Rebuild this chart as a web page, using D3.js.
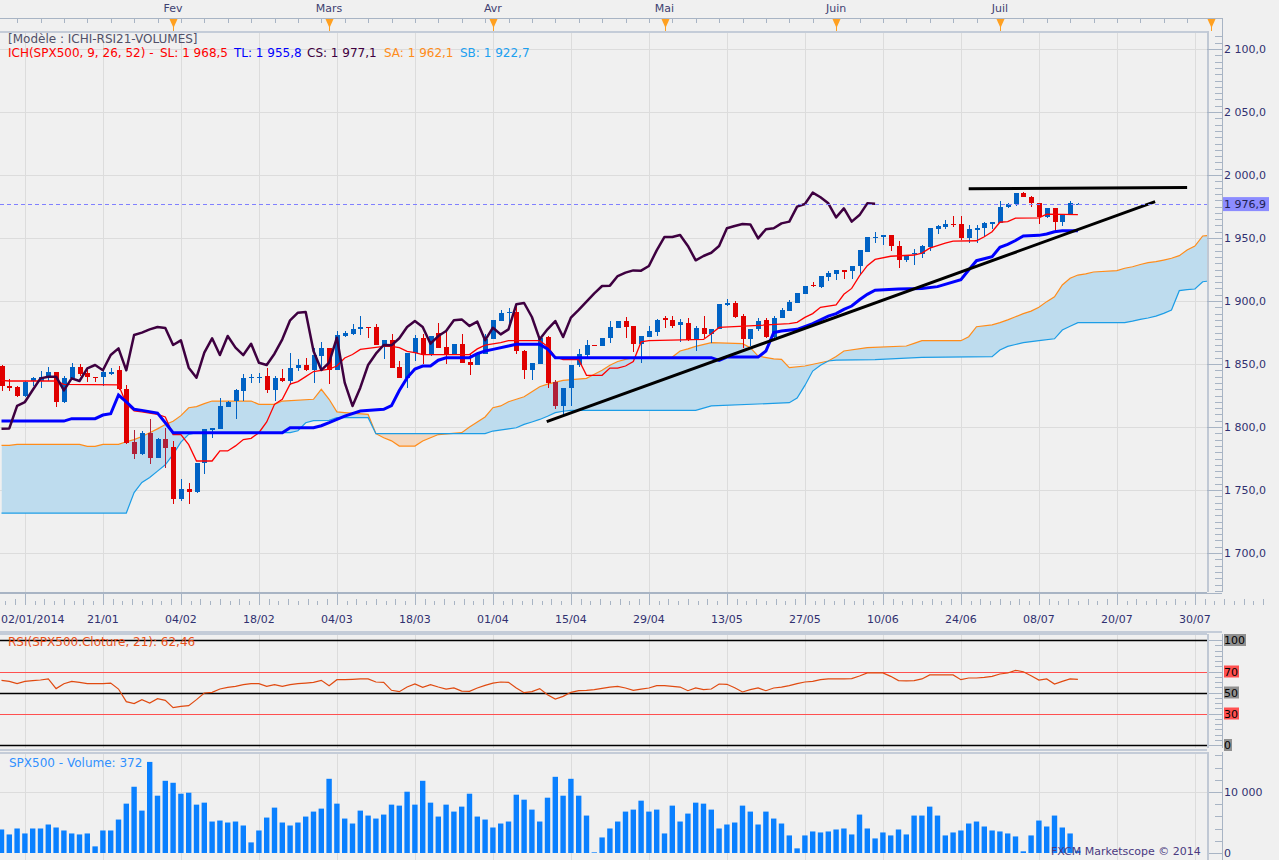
<!DOCTYPE html>
<html>
<head>
<meta charset="utf-8">
<script src="https://cdn.jsdelivr.net/npm/d3@7"></script>
<style>
  body { margin: 0; background: #f0f0f0; }
  svg { display: block; font-family: "DejaVu Sans", Verdana, sans-serif; }
</style>
</head>
<body>
<svg id="chart" width="1279" height="860"></svg>
<script>
// ---- data (bar index = trading day from the left edge) ----
const dateLabels = ["02/01/2014","21/01","04/02","18/02","04/03","18/03","01/04","15/04",
                    "29/04","13/05","27/05","10/06","24/06","08/07","20/07","30/07"];
const dateBars = [3,13,23,33,43,53,63,73,83,93,103,113,123,133,143,153];
const monthLabels = ["Fev","Mars","Avr","Mai","Juin","Juil",""];
const monthBars = [22,42,63,85,107,128,155];
const priceTicks = [1700,1750,1800,1850,1900,1950,2000,2050,2100];
const rsiLevels = [100,70,50,30,0];
const volTicks = [0,10000];
const lastPrice = 1976.9;

const opens = [
1848.4,1832.5,1831.7,1824.6,1836.5,1836.5,1839.7,1843.6,1820.1,1838.6,
1847.6,1842.5,1839.9,1839.9,1841.7,1845.2,1830.4,1788.1,1778.3,1795.5,
1775.6,1790.2,1784.4,1742.6,1750.5,1748.4,1771.1,1797.8,1798.7,1816.2,
1820.6,1828.6,1838.6,1839.1,1840.5,1829.1,1838.6,1836.5,1846.6,1849.2,
1845,1856.3,1862.4,1845,1872.2,1873.5,1877.5,1879.4,1879.4,1865.1,
1868.8,1847.6,1839.1,1858.5,1870.4,1857.1,1874.9,1863.5,1857.1,1866.1,
1851.8,1849.2,1858.2,1869.6,1884.1,1890.5,1891.3,1860.3,1845.2,1850.3,
1871.4,1836,1816.7,1830.7,1849.2,1857.1,1865.3,1864.3,1870.4,1878.8,
1884.1,1880.2,1866.1,1871.4,1875.7,1886.2,1884.7,1880.9,1882.8,1868.8,
1878.8,1873.5,1877.5,1896.8,1898.4,1888.1,1869.6,1877.5,1884.7,1871.4,
1886.2,1892.1,1898.7,1905.8,1912.7,1911.1,1919.3,1921.7,1924.6,1924.1,
1927.5,1939.1,1949.7,1950.8,1952.4,1943.7,1932.3,1937.3,1937.3,1942.6,
1956.9,1959,1961.3,1961.1,1949.7,1956.9,1957.7,1961.1,1962.2,1974.4,
1977,1986,1982.3,1977.5,1966.4,1973.5,1963,1968.9,1976.9];
const highs = [
1849,1837.8,1832.5,1836.5,1839.7,1844.4,1847.6,1844,1840.5,1851,
1849.7,1845.9,1840,1847,1847.1,1848.4,1833,1797.3,1796.8,1806.1,
1791.5,1799.4,1788.9,1758.4,1755.8,1771.1,1798.7,1799.5,1823.3,1820.5,
1830.4,1841.8,1841.8,1843.1,1846.6,1840.5,1845.8,1859,1853.7,1855,
1862.4,1867.7,1862.4,1876.2,1876.2,1882,1888.4,1879.4,1882,1868.8,
1874.1,1852.4,1859,1873,1873.5,1872.2,1882.8,1876.2,1866.1,1874.1,
1857.7,1858.2,1873.5,1884.7,1892.6,1894.7,1897.4,1861,1851,1870.9,
1872,1837,1831.2,1849.2,1861.6,1868.8,1865.3,1870.4,1884.1,1884.1,
1887.3,1880.2,1872.2,1880.2,1885.4,1888.1,1888.1,1885.4,1886.8,1880.2,
1888.1,1877.5,1897.4,1901.9,1900,1890,1877.5,1886.2,1886.8,1888.1,
1894.7,1900.5,1906.1,1911.9,1915.3,1919.8,1923.8,1924.3,1924.6,1927.8,
1940.2,1950.8,1955,1952.4,1952.4,1947.6,1935.7,1941,1944.4,1957.7,
1960.3,1964.3,1967.5,1967.5,1960.3,1960.3,1963,1963,1979.6,1978.1,
1986,1986.8,1983.3,1977.5,1973.5,1973.5,1968.2,1979.6,1977.5];
const lows = [
1828.6,1828.6,1823.8,1824,1832.5,1830.7,1836.5,1816,1819.3,1837.8,
1840.5,1835.9,1835.9,1832.5,1840.9,1829.1,1786.2,1774.3,1777.8,1770.9,
1775.1,1767.7,1739.1,1741.2,1739.1,1747.9,1762.9,1791.5,1798.4,1815.5,
1806.6,1820.6,1835.2,1835.2,1827.2,1820.6,1836,1833.3,1844.4,1844.4,
1835.2,1847.1,1834.4,1845,1871.4,1873,1873,1870.9,1865.1,1853.7,
1847.1,1839.1,1831.2,1852.4,1849.7,1856.3,1863,1849.7,1857.1,1851,
1841.3,1849.2,1857.7,1869.6,1884.1,1882.8,1858,1837.8,1837,1850,
1831.2,1814,1809.5,1816.7,1847.6,1853.7,1864.8,1864.3,1866.9,1878.8,
1870.4,1859.8,1851,1871.4,1872.2,1878.8,1878.3,1867.7,1868.2,1860.3,
1870.4,1866.9,1877.5,1896,1886.2,1862.4,1864.3,1876.2,1870.4,1870.9,
1886.2,1892.1,1898.7,1905.3,1911.1,1910.1,1915.9,1916.4,1917.2,1917.2,
1920.6,1939.1,1946.3,1944.5,1939.7,1925.9,1931.2,1928.6,1933.9,1939.9,
1953.2,1956.9,1959,1948.4,1946.3,1945.8,1951.6,1956.9,1961.6,1973.5,
1975.4,1982.3,1974.9,1961.1,1965.6,1955,1959.5,1968.2,1976.5];
const closes = [
1832.5,1831.2,1824.6,1836,1838.6,1839.7,1843.6,1820.1,1838.6,1847.6,
1842.3,1839.9,1839.1,1843.6,1843.8,1830.4,1787.5,1778.8,1795.5,1775.6,
1790.2,1783.6,1742.6,1750.5,1748.6,1771.1,1798.7,1798.9,1816.7,1819.8,
1829.4,1838.6,1839.9,1839.9,1829.1,1838.6,1836.5,1846.6,1849.2,1845,
1857.1,1862.4,1845,1873,1874.9,1877.5,1879.4,1878.5,1865.1,1868.8,
1847.1,1839.1,1859,1870.4,1857.1,1872.2,1863,1857.1,1866.1,1851,
1849.2,1858.2,1869.6,1884.7,1890.7,1891.3,1860.3,1845.2,1851,1870.9,
1835.2,1816.7,1831.2,1849.2,1858.2,1865.1,1864.8,1870.4,1879.4,1884.1,
1879.4,1866.1,1872.2,1876.2,1884.7,1885.4,1880.2,1883.6,1868.8,1878.8,
1873.5,1877.5,1897.4,1898.4,1887.3,1869.6,1877.5,1884.1,1871.4,1886.8,
1892.9,1899.5,1906.1,1911.9,1912.2,1919.8,1922.5,1924.3,1924.1,1927.8,
1940.2,1950.8,1950.8,1952.4,1943.7,1932.3,1935.7,1938.3,1943.6,1957.7,
1959.5,1961.1,1960.8,1949.7,1956.9,1957.7,1961.6,1963,1974.9,1977,
1986,1982.3,1977.5,1966.4,1973.5,1963,1968.2,1977.5,1977.1];
const darkRedBars = [17,19,21,71];

const volumes = [
3855,3041,4018,3204,4018,4018,4670,4181,3692,3204,
3041,3204,1086,3692,3692,5484,8091,10860,6950,14933,
9394,11837,11512,9720,9883,7928,8254,5159,5321,4996,
5159,4507,1738,3692,5810,7439,4996,4507,4996,5973,
6788,7276,12163,8091,5647,4833,6950,6136,5647,6299,
7928,7765,10046,7928,11837,8254,5973,7928,6788,7602,
9720,5973,5484,4181,4833,5159,9557,8742,7113,5159,
9068,12489,9394,12163,9394,6136,109,2552,4018,5159,
6788,7113,8579,6788,7113,3204,7765,5159,6462,8254,
8091,7113,4018,4670,4996,7765,6788,4670,6788,5647,
4833,2878,760,2878,3530,3367,3530,3855,4018,3041,
6299,4018,2389,3367,2878,3855,3041,6136,6136,7602,
6136,2878,3367,3692,4833,5159,4344,3692,3530,3204,
2715,272,2878,5321,4344,6136,4181,3204,372];

const rsi = [
61.6,60.6,58.4,60.6,61.3,61.9,62.9,53.7,58.4,60.6,
59.7,58.4,58.4,58.4,59,53.3,41.3,39.4,43.2,40,
44.1,42.5,35.6,36.8,37.5,43.2,49.5,50.2,53.3,54.9,
55.9,57.5,58.4,58.4,55.9,57.5,55.9,57.5,58.4,59,
59.7,61.6,56.5,62.2,62.2,62.5,62.9,62.9,60,59.7,
52.1,50.8,55.2,58.1,54.9,57.5,55.2,53.3,54.3,51.4,
51.1,54.3,56.8,59,60,59.7,54.3,49.8,50.8,53.7,
47.9,43.8,46.3,50.2,51.7,52.1,52.7,54,55.2,55.9,
54.3,52.1,53.3,54.3,56.5,56.5,55.9,55.2,51.7,54.3,
52.7,53.3,58.1,57.8,54.6,50.5,52.7,54.3,51.7,54.3,
55.2,56.5,58.4,60,60.6,62.2,62.9,62.9,62.9,63.2,
65.7,68.6,68.6,68.6,65.4,61.3,61,61.3,62.9,66.7,
66.7,66.7,66.7,62.2,63.8,63.8,64.4,65.4,67.6,68.6,
71.1,69.8,66,61.9,62.9,58.1,60.6,62.9,62.46];

// ichimoku lines, vertices [bar, price]
const tenkan = [[0,1837],[1,1836.5],[7,1836.5],[8,1833.8],[15,1833.5],[16,1818.5],[17,1812.7],[18,1812],
  [20,1810],[21,1808],[22,1794],[23,1794],[24,1786],[25,1773],[27,1773],[28,1781],[29,1781],[30,1785],
  [31,1790],[32,1791],[33,1795.5],[34,1804],[35,1818],[36,1822],[37,1834],[38,1836],[39,1840],[40,1844],
  [41,1845],[42,1846],[43,1848.4],[44,1854.8],[45,1857.5],[46,1861.6],[49,1864],[50,1864],[51,1863],
  [52,1860],[53,1859],[54,1857.5],[60,1857.5],[61,1862],[62,1865],[63,1866],[64,1867],[65,1868.5],
  [69,1868.5],[70,1864],[71,1855.5],[72,1853.5],[74,1853.5],[75,1841],[77,1841],[78,1846.8],[79,1846.8],
  [80,1848.4],[81,1852],[82,1867.5],[83,1868.5],[90,1869.5],[91,1874],[92,1879],[101,1882],[102,1883],
  [103,1887],[104,1890],[105,1895],[107,1897],[108,1905.3],[109,1910],[110,1920],[111,1928],[112,1933],
  [114,1935.5],[117,1936.5],[118,1938],[119,1942],[120,1944],[121,1946],[122,1947.5],[125,1947.8],
  [126,1951],[127,1955],[128,1962.5],[129,1963],[130,1965.8],[133,1966],[134,1969],[138,1968.5]];
const kijun = [[0,1804.7],[8,1804.7],[9,1806.6],[12,1806.6],[13,1809.5],[14,1810.5],[15,1825.4],[16,1820],
  [17,1814],[18,1813.2],[20,1811],[21,1803.4],[22,1795.5],[36,1795.5],[37,1799.4],[40,1799.4],[41,1801],
  [42,1803.4],[44,1808.7],[46,1812.7],[49,1814],[50,1817],[51,1829],[52,1839],[53,1846],[54,1848.4],
  [55,1848.4],[56,1853],[57,1855],[60,1855],[61,1858.2],[62,1860.3],[63,1861.6],[65,1864.3],[66,1865.6],
  [69,1865.6],[70,1862],[71,1855],[91,1855],[92,1852.9],[93,1855.5],[97,1855.5],[98,1860.3],[99,1874.9],
  [100,1876.2],[102,1877.5],[104,1882],[106,1888],[107,1890],[108,1893.4],[109,1896],[110,1901],
  [111,1905.3],[112,1908.5],[115,1909.5],[118,1910],[120,1911.4],[123,1917],[124,1924.6],[125,1932],
  [127,1935.2],[128,1942.6],[129,1945],[130,1948],[131,1951.6],[133,1952.1],[134,1953.2],[135,1955],
  [136,1955.8],[138,1955.8]];
const senkouA = [[0,1785.4],[1,1785.4],[2,1786.2],[10,1786.2],[11,1784.6],[12,1784.6],[13,1786.2],[15,1786.2],
  [16,1788.3],[17,1790],[18,1792.5],[19,1795.5],[20,1798.5],[21,1802],[22,1804.5],[23,1809],[24,1815.3],
  [25,1816.2],[26,1818.5],[27,1820.6],[32,1820.6],[33,1818],[35,1818],[36,1820.6],[40,1822],[41,1829.9],
  [42,1822],[43,1812],[44,1811.4],[47,1810],[48,1794.7],[49,1791.5],[50,1789],[51,1784.9],[53,1784.9],
  [54,1788.9],[56,1794],[59,1795.5],[60,1800],[61,1804],[62,1808],[63,1815.3],[64,1816.7],[65,1820],
  [66,1822],[67,1824],[68,1828],[69,1832],[70,1834],[72,1837],[75,1838.6],[76,1841.8],[77,1845],
  [78,1849],[79,1852],[80,1853.7],[81,1855],[86,1855.5],[87,1860.3],[88,1862],[89,1864],[91,1866.9],
  [95,1866.1],[96,1863],[97,1856.3],[99,1854],[100,1853.7],[101,1847.1],[103,1848.4],[106,1852.4],
  [107,1856],[108,1860.3],[111,1863],[116,1864.3],[117,1866.4],[118,1868.5],[123,1868.5],[124,1871.7],
  [125,1879.6],[127,1881],[128,1882.8],[129,1885],[130,1887.5],[131,1890],[132,1892],[133,1895],
  [134,1899.5],[135,1903.4],[136,1912.7],[137,1918],[138,1920.6],[139,1921.5],[140,1923],[143,1924.1],
  [144,1926],[145,1927.2],[146,1929],[147,1930.5],[148,1931.2],[149,1932.5],[150,1933.9],[151,1936],
  [152,1940.5],[153,1943.6],[154,1951.6],[155,1952]];
const senkouB = [[0,1731.7],[16,1731.7],[17,1748],[18,1756],[19,1760],[20,1765],[21,1770],[22,1778.3],
  [23,1788],[24,1794.2],[25,1795.5],[37,1795.5],[38,1797],[39,1803.4],[40,1805],[42,1805.3],[43,1807.4],
  [47,1807.4],[48,1794.7],[62,1794.7],[63,1796.8],[65,1798.5],[66,1799.4],[67,1802.1],[68,1804],
  [69,1806],[70,1808.5],[71,1811.4],[72,1812.5],[73,1813.2],[89,1813.2],[90,1815],[91,1816.7],
  [101,1819.3],[102,1823],[103,1833],[104,1844.4],[105,1849],[106,1852.4],[107,1853],[112,1853.5],
  [118,1855.3],[127,1855.8],[128,1861.1],[129,1864],[130,1865.5],[131,1866.9],[133,1868.5],[135,1870],
  [136,1877],[137,1880],[138,1882.8],[144,1882.8],[145,1884],[146,1885.4],[147,1886.5],[148,1888],
  [149,1890.2],[150,1892.8],[151,1908.2],[152,1909],[153,1909.5],[154,1915.3],[155,1916]];
const trendLine = [[69.9,1804.2],[147.9,1978.8]];
const resistLine = [[124,1989],[152,1990]];

// ---- layout ----
const svg = d3.select("#chart");
const priceTop = 31, priceBottom = 592, plotRight = 1207, axisX = 1222;
const rsiTop = 634, rsiBottom = 748, volTop = 752, volBottom = 860;
const axisCol = "#a8b4c4", gridCol = "#dcdcdc", textCol = "#303070";

const x = d3.scaleLinear().domain([0, 10]).range([1.5, 79.5]);
const y = d3.scaleLinear().domain([1700, 2100]).range([553, 49]);
const yRsi = d3.scaleLinear().domain([0, 100]).range([745, 640]);
const yVol = d3.scaleLinear().domain([0, 10000]).range([853, 792]);

const fr = (v, d) => v.toFixed(d).replace(".", ",").replace(/\B(?=(\d{3})+(?!\d))/g, " ");
const crisp = v => Math.round(v) + 0.5;

const defs = svg.append("defs");
function clipRect(id, x0, y0, w, h) {
  defs.append("clipPath").attr("id", id).append("rect")
    .attr("x", x0).attr("y", y0).attr("width", w).attr("height", h);
}
clipRect("clipPrice", 0, priceTop + 1, plotRight, priceBottom - priceTop - 1);
clipRect("clipRsi", 0, rsiTop, plotRight, rsiBottom - rsiTop);
clipRect("clipVol", 0, volTop, plotRight, volBottom - volTop);

// cloud clip regions: everything above senkou A / senkou B
const areaUp = d3.area().x(d => x(d[0])).y0(priceTop).y1(d => y(d[1]));
const areaDown = d3.area().x(d => x(d[0])).y0(priceBottom).y1(d => y(d[1]));
defs.append("clipPath").attr("id", "aboveB").append("path").attr("d", areaUp(senkouB));
defs.append("clipPath").attr("id", "aboveA").append("path").attr("d", areaUp(senkouA));

svg.append("rect").attr("width", 1279).attr("height", 860).attr("fill", "#f0f0f0");

// ---- grid ----
const grid = svg.append("g").attr("stroke", gridCol).attr("shape-rendering", "crispEdges");
[[priceTop, priceBottom], [rsiTop, rsiBottom], [volTop, volBottom]].forEach(([t, b]) => {
  grid.append("g").selectAll("line").data(dateBars).join("line")
    .attr("x1", d => crisp(x(d))).attr("x2", d => crisp(x(d))).attr("y1", t).attr("y2", b);
});
grid.append("g").selectAll("line").data(priceTicks).join("line")
  .attr("x1", 0).attr("x2", plotRight).attr("y1", d => crisp(y(d))).attr("y2", d => crisp(y(d)));
grid.append("line").attr("x1", 0).attr("x2", plotRight)
  .attr("y1", crisp(yVol(10000))).attr("y2", crisp(yVol(10000)));

// ---- price panel ----
const price = svg.append("g").attr("clip-path", "url(#clipPrice)");

// cloud fills
price.append("g").attr("clip-path", "url(#aboveB)")
  .append("path").attr("d", areaDown(senkouA)).attr("fill", "#bedcee");
price.append("g").attr("clip-path", "url(#aboveA)")
  .append("path").attr("d", areaDown(senkouB)).attr("fill", "#f4d8c0");

const line = d3.line().x(d => x(d[0])).y(d => y(d[1]));
price.append("path").attr("d", line(senkouA)).attr("fill", "none")
  .attr("stroke", "#ff8c1a").attr("stroke-width", 1.2);
price.append("path").attr("d", line(senkouB)).attr("fill", "none")
  .attr("stroke", "#1c9de6").attr("stroke-width", 1.2);

// candles
const bars = d3.range(closes.length);
const candleCol = i => darkRedBars.includes(i) ? "#b02038" : (closes[i] >= opens[i] ? "#0062c4" : "#e00000");
const candles = price.append("g").attr("shape-rendering", "crispEdges");
candles.selectAll("line").data(bars).join("line")
  .attr("x1", i => crisp(x(i))).attr("x2", i => crisp(x(i)))
  .attr("y1", i => y(highs[i])).attr("y2", i => y(lows[i]))
  .attr("stroke", candleCol);
candles.selectAll("rect").data(bars).join("rect")
  .attr("x", i => Math.round(x(i)) - 2).attr("width", 5)
  .attr("y", i => y(Math.max(opens[i], closes[i])))
  .attr("height", i => Math.max(1.5, Math.abs(y(opens[i]) - y(closes[i]))))
  .attr("fill", candleCol);

// tenkan, kijun, chikou (close shifted back 26 bars)
price.append("path").attr("d", line(tenkan)).attr("fill", "none")
  .attr("stroke", "#ff0000").attr("stroke-width", 1.3);
price.append("path").attr("d", line(kijun)).attr("fill", "none")
  .attr("stroke", "#0000ff").attr("stroke-width", 3);
const chikou = closes.slice(26).map((c, i) => [i, c]);
price.append("path").attr("d", line(chikou)).attr("fill", "none")
  .attr("stroke", "#3e0040").attr("stroke-width", 2.5).attr("stroke-linejoin", "round");

// drawn trend lines
[trendLine, resistLine].forEach(l => {
  price.append("path").attr("d", line(l)).attr("fill", "none")
    .attr("stroke", "#000").attr("stroke-width", 3);
});

// last price dashed line
price.append("line").attr("x1", 0).attr("x2", plotRight)
  .attr("y1", crisp(y(lastPrice))).attr("y2", crisp(y(lastPrice)))
  .attr("stroke", "#8080ff").attr("stroke-dasharray", "4,3");

// ---- header texts ----
svg.append("text").attr("x", 8).attr("y", 43).attr("font-size", 12).attr("fill", "#505068")
  .text("[Modèle : ICHI-RSI21-VOLUMES]");
const legendParts = [
  ["ICH(SPX500, 9, 26, 52) -", "#ff0000", 8],
  ["SL: 1 968,5", "#ff0000", 160],
  ["TL: 1 955,8", "#0000ff", 234],
  ["CS: 1 977,1", "#400040", 307],
  ["SA: 1 962,1", "#ff8c1a", 384],
  ["SB: 1 922,7", "#1ca0f0", 460]];
const leg = svg.append("text").attr("y", 57).attr("font-size", 12);
legendParts.forEach(([t, c, px]) => leg.append("tspan").attr("x", px).attr("fill", c).text(t));

// ---- frames and axes ----
const frame = svg.append("g").attr("stroke", axisCol).attr("shape-rendering", "crispEdges");
// top calendar ruler
frame.append("line").attr("x1", 0).attr("x2", axisX).attr("y1", 18.5).attr("y2", 18.5);
frame.append("g").selectAll("line").data(d3.range(2, 156, 3)).join("line")
  .attr("x1", d => crisp(x(d))).attr("x2", d => crisp(x(d))).attr("y1", 19).attr("y2", 23);
// panel borders
[[priceTop, "#c4ccd8"], [priceBottom, axisCol], [rsiTop - 1, "#c4ccd8"], [rsiBottom + 1, "#c4ccd8"], [volTop, "#c4ccd8"]]
  .forEach(([yy, c]) => {
    frame.append("line").attr("x1", 0).attr("x2", plotRight).attr("y1", yy + 0.5).attr("y2", yy + 0.5)
      .attr("stroke", c).attr("stroke-width", 2);
  });
[[priceTop, priceBottom], [rsiTop, rsiBottom], [volTop, volBottom]].forEach(([t, b]) => {
  frame.append("line").attr("x1", plotRight + 0.5).attr("x2", plotRight + 0.5).attr("y1", t).attr("y2", b)
    .attr("stroke", "#c0c8d4").attr("stroke-width", 2);
});
frame.append("line").attr("x1", axisX + 0.5).attr("x2", axisX + 0.5).attr("y1", 18).attr("y2", priceBottom);
frame.append("line").attr("x1", axisX + 0.5).attr("x2", axisX + 0.5).attr("y1", rsiTop).attr("y2", rsiBottom);
frame.append("line").attr("x1", axisX + 0.5).attr("x2", axisX + 0.5).attr("y1", volTop).attr("y2", volBottom);

// month markers
const months = svg.append("g");
months.selectAll("path").data(monthBars).join("path")
  .attr("d", d => { const cx = Math.round(x(d)) + 0.5; return `M${cx - 4},19L${cx + 4},19L${cx},28Z`; })
  .attr("fill", "#ffa020");
months.selectAll("line").data(monthBars).join("line")
  .attr("x1", d => crisp(x(d))).attr("x2", d => crisp(x(d))).attr("y1", 27).attr("y2", 31)
  .attr("stroke", "#ffa020");
months.selectAll("text").data(monthLabels).join("text")
  .attr("x", (d, i) => x(monthBars[i])).attr("y", 12).attr("text-anchor", "middle")
  .attr("font-size", 11).attr("fill", "#404070").text(d => d);

// date axis strip
frame.append("line").attr("x1", 0).attr("x2", axisX).attr("y1", 593.5).attr("y2", 593.5);
frame.append("g").selectAll("line").data(dateBars).join("line")
  .attr("x1", d => crisp(x(d))).attr("x2", d => crisp(x(d))).attr("y1", 593).attr("y2", 605);
const minorDates = dateBars.flatMap(d => d3.range(1, 8).map(j => d - 10 + j * 10 / 8)).filter(d => x(d) > 0);
frame.append("g").selectAll("line").data(minorDates.concat(d3.range(1, 8).map(j => 153 + j * 10 / 8)))
  .join("line")
  .attr("x1", d => crisp(x(d))).attr("x2", d => crisp(x(d)))
  .attr("y1", (d, i) => (i % 2 ? 599 : 601)).attr("y2", 605);
frame.append("line").attr("x1", 0).attr("x2", axisX).attr("y1", 631.5).attr("y2", 631.5)
  .attr("stroke", "#c4ccd8").attr("stroke-width", 2);
const dateText = svg.append("g").attr("font-size", 11).attr("fill", textCol);
dateText.selectAll("text").data(dateLabels).join("text")
  .attr("x", (d, i) => x(dateBars[i])).attr("y", 623).attr("text-anchor", "middle").text(d => d)
  .each(function () {
    const w = this.getComputedTextLength(), cx = +this.getAttribute("x");
    if (cx - w / 2 < 1) this.setAttribute("x", 1 + w / 2);
  });

// price axis
const pAxis = svg.append("g");
pAxis.append("g").attr("stroke", axisCol).attr("shape-rendering", "crispEdges")
  .selectAll("line").data(d3.range(1670, 2111, 5)).join("line")
  .attr("x1", d => (d % 50 === 0 ? plotRight : axisX - 7)).attr("x2", axisX)
  .attr("y1", d => crisp(y(d))).attr("y2", d => crisp(y(d)));
pAxis.selectAll("text").data(priceTicks).join("text")
  .attr("x", axisX + 2).attr("y", d => y(d) + 4).attr("font-size", 11).attr("fill", textCol)
  .text(d => fr(d, 1));
pAxis.append("rect").attr("x", axisX + 1).attr("y", y(lastPrice) - 7).attr("width", 46).attr("height", 14)
  .attr("fill", "#8c8cff");
pAxis.append("text").attr("x", axisX + 2).attr("y", y(lastPrice) + 4).attr("font-size", 11)
  .attr("fill", "#202050").text(fr(lastPrice, 1));

// ---- RSI panel ----
const rsiG = svg.append("g").attr("clip-path", "url(#clipRsi)");
rsiG.selectAll("line").data(rsiLevels).join("line")
  .attr("x1", 0).attr("x2", plotRight)
  .attr("y1", d => crisp(yRsi(d))).attr("y2", d => crisp(yRsi(d)))
  .attr("stroke", d => (d === 70 || d === 30) ? "#ff5050" : "#000")
  .attr("stroke-width", d => (d === 70 || d === 30) ? 1 : 1.5);
rsiG.append("path")
  .attr("d", d3.line().x((d, i) => x(i)).y(d => yRsi(d))(rsi))
  .attr("fill", "none").attr("stroke", "#e04a10").attr("stroke-width", 1.2);
svg.append("text").attr("x", 8).attr("y", 646).attr("font-size", 12).attr("fill", "#e8501a")
  .text("RSI(SPX500.Cloture, 21): " + fr(rsi[rsi.length - 1], 2));
svg.append("g").attr("stroke", axisCol).attr("shape-rendering", "crispEdges")
  .selectAll("line").data(d3.range(0, 101, 5)).join("line")
  .attr("x1", d => (rsiLevels.includes(d) ? plotRight + 2 : axisX - 7)).attr("x2", axisX)
  .attr("y1", d => crisp(yRsi(d))).attr("y2", d => crisp(yRsi(d)));
const rsiLab = svg.append("g").attr("font-size", 11);
rsiLevels.forEach(v => {
  const t = String(v);
  rsiLab.append("rect").attr("x", axisX + 2).attr("y", yRsi(v) - 6).attr("width", t.length * 7 + 1)
    .attr("height", 12).attr("fill", (v === 70 || v === 30) ? "#ff5050" : "#909090");
  rsiLab.append("text").attr("x", axisX + 2).attr("y", yRsi(v) + 4).attr("fill", "#000").text(t);
});

// ---- volume panel ----
const volG = svg.append("g").attr("clip-path", "url(#clipVol)");
volG.selectAll("rect").data(volumes).join("rect")
  .attr("x", (d, i) => x(i) - 2.7).attr("width", 5.4)
  .attr("y", d => yVol(d)).attr("height", d => yVol(0) - yVol(d))
  .attr("fill", "#0a80ff");
svg.append("text").attr("x", 9).attr("y", 767).attr("font-size", 12).attr("fill", "#3090ff")
  .text("SPX500 - Volume: " + volumes[volumes.length - 1]);
svg.append("g").attr("stroke", axisCol).attr("shape-rendering", "crispEdges")
  .selectAll("line").data(d3.range(0, 16001, 2000)).join("line")
  .attr("x1", d => (d % 10000 === 0 ? plotRight + 2 : axisX - 7)).attr("x2", axisX)
  .attr("y1", d => crisp(yVol(d))).attr("y2", d => crisp(yVol(d)));
svg.append("g").selectAll("text").data(volTicks).join("text")
  .attr("x", axisX + 2).attr("y", d => yVol(d) + 4).attr("font-size", 11).attr("fill", textCol)
  .text(d => fr(d, 0));
svg.append("text").attr("x", 1051).attr("y", 855).attr("font-size", 11).attr("fill", "#4a3a80")
  .text("FXCM Marketscope © 2014");
</script>
</body>
</html>
